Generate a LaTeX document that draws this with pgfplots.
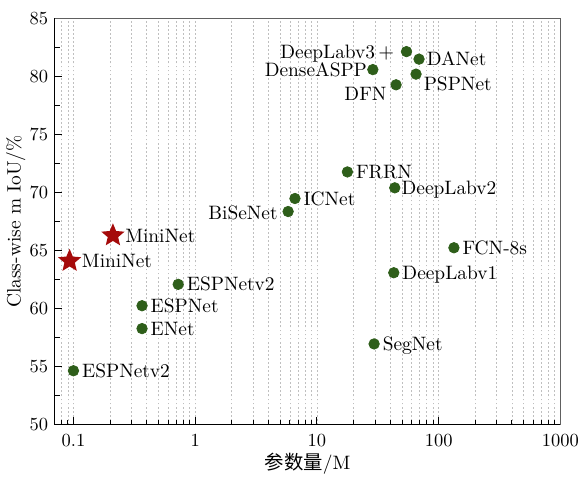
\documentclass[border=0pt]{standalone}
\usepackage{pgfplots}
\pgfplotsset{compat=1.18}
\usepackage{fontspec}
\newfontfamily\cjk{Noto Sans CJK SC}
\definecolor{dotgreen}{RGB}{46,94,26}
\definecolor{starred}{RGB}{165,10,10}
\pgfdeclareplotmark{fstar}{%
  \pgfpathmoveto{\pgfqpointpolar{90}{1.0\pgfplotmarksize}}%
  \pgfpathlineto{\pgfqpointpolar{126}{0.45\pgfplotmarksize}}%
  \pgfpathlineto{\pgfqpointpolar{162}{1.0\pgfplotmarksize}}%
  \pgfpathlineto{\pgfqpointpolar{198}{0.45\pgfplotmarksize}}%
  \pgfpathlineto{\pgfqpointpolar{234}{1.0\pgfplotmarksize}}%
  \pgfpathlineto{\pgfqpointpolar{270}{0.45\pgfplotmarksize}}%
  \pgfpathlineto{\pgfqpointpolar{306}{1.0\pgfplotmarksize}}%
  \pgfpathlineto{\pgfqpointpolar{342}{0.45\pgfplotmarksize}}%
  \pgfpathlineto{\pgfqpointpolar{18}{1.0\pgfplotmarksize}}%
  \pgfpathlineto{\pgfqpointpolar{54}{0.45\pgfplotmarksize}}%
  \pgfpathclose\pgfusepathqfill}

\newcommand\lblfont{\fontsize{10.5}{12}\selectfont}
\tikzset{lbl/.style={inner sep=1pt, text height=7.1pt, text depth=0pt, black, font=\lblfont}}

\begin{document}
\begin{tikzpicture}
\begin{axis}[
  name=ax,
  scale only axis,
  width=274pt, height=220.2pt,
  xmode=log,
  xmin=0.07, xmax=1000,
  ymin=50, ymax=85,
  log ticks with fixed point,
  /pgf/number format/1000 sep={},
  ytick={50,55,...,85},
  minor y tick num=1,
  tick align=inside,
  xtick pos=bottom, ytick pos=left,
  xticklabel style={yshift=-2pt},
  xmajorgrids, xminorgrids,
  major grid style={gray!50, dash pattern=on 1pt off 1.2pt, line width=0.4pt},
  minor grid style={gray!50, dash pattern=on 1pt off 1.2pt, line width=0.4pt},
  axis line style={line width=0.8pt, black},
  major tick style={line width=0.6pt, black},
  minor tick style={line width=0.5pt, black},
  xlabel={{\cjk 参数量}/M},
  ylabel={Class-wise m IoU/\%},
  label style={font=\lblfont},
  xlabel style={at={(axis description cs:0.5,-0.097)}, anchor=center},
  ylabel style={at={(axis description cs:-0.0766,0.5)}, anchor=center},
  clip=false,
]
\draw[gray!75!black, line width=0.6pt] (rel axis cs:0,1) -- (rel axis cs:1,1) -- (rel axis cs:1,0);
\addplot[only marks, mark=*, mark size=2.85pt, color=dotgreen] coordinates {
  (0.100,54.65) (0.366,60.25) (0.366,58.28) (0.725,62.09)
  (5.80,68.36) (6.60,69.48) (17.8,71.77) (43.6,70.40)
  (54.4,82.13) (69.0,81.48) (28.8,80.58) (65.2,80.19)
  (44.7,79.27) (133.5,65.24) (42.8,63.09) (29.5,56.96)
};
\addplot[only marks, mark=fstar, mark size=6.6pt, color=starred] coordinates {
  (0.093,64.10) (0.211,66.30)
};
\node[lbl, anchor=west, xshift=5.5pt] at (axis cs:0.093,64.10) {MiniNet};
\node[lbl, anchor=west, xshift=5.5pt] at (axis cs:0.211,66.30) {MiniNet};
\node[lbl, anchor=west, xshift=3.5pt] at (axis cs:0.100,54.65) {ESPNetv2};
\node[lbl, anchor=west, xshift=3.5pt] at (axis cs:0.366,60.25) {ESPNet};
\node[lbl, anchor=west, xshift=3.5pt] at (axis cs:0.366,58.28) {ENet};
\node[lbl, anchor=west, xshift=3.5pt] at (axis cs:0.725,62.09) {ESPNetv2};
\node[lbl, anchor=east, xshift=-4.5pt, yshift=-1pt] at (axis cs:5.80,68.36) {BiSeNet};
\node[lbl, anchor=west, xshift=3.5pt] at (axis cs:6.60,69.48) {ICNet};
\node[lbl, anchor=west, xshift=3.5pt] at (axis cs:17.8,71.77) {FRRN};
\node[lbl, anchor=west, xshift=2.5pt] at (axis cs:43.6,70.40) {DeepLabv2};
\node[lbl, anchor=east, xshift=-5.5pt] at (axis cs:54.4,82.13) {DeepLabv3\,$+$};
\node[lbl, anchor=west, xshift=3pt] at (axis cs:69.0,81.48) {DANet};
\node[lbl, anchor=east, xshift=-2pt] at (axis cs:28.8,80.58) {DenseASPP};
\node[lbl, anchor=north west, xshift=3pt, yshift=-0.5pt] at (axis cs:65.2,80.19) {PSPNet};
\node[lbl, anchor=north east, xshift=-4pt] at (axis cs:44.7,79.27) {DFN};
\node[lbl, anchor=west, xshift=3.5pt] at (axis cs:133.5,65.24) {FCN-8s};
\node[lbl, anchor=west, xshift=3.5pt] at (axis cs:42.8,63.09) {DeepLabv1};
\node[lbl, anchor=west, xshift=3.5pt] at (axis cs:29.5,56.96) {SegNet};
\end{axis}
\path ([shift={(-29.2pt,-27.7pt)}]ax.south west) rectangle ([shift={(13pt,9.9pt)}]ax.north east);
\end{tikzpicture}
\end{document}
